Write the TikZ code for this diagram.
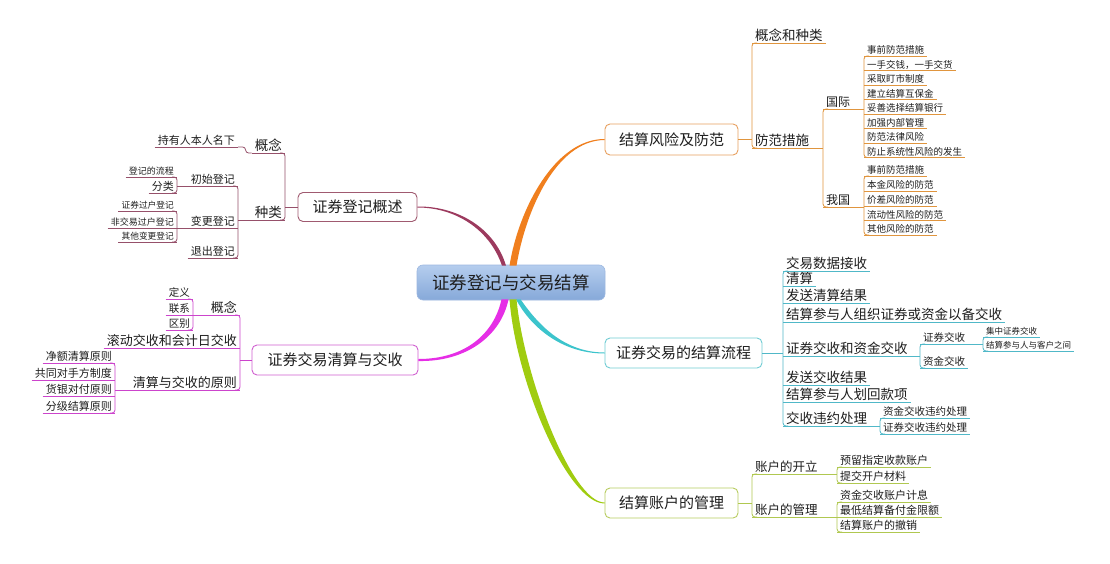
\documentclass[tikz,border=0pt]{standalone}
\usepackage{fontspec}
\newfontfamily\cjk{Noto Sans CJK SC}
\usetikzlibrary{calc}
\newcommand\myfs[1]{\cjk\fontsize{#1}{#1}\selectfont}
\definecolor{txt}{HTML}{1E1E1E}
\definecolor{orgT}{HTML}{F07F1E}
\definecolor{orgL}{HTML}{E0953E}
\definecolor{orgB}{HTML}{E8A060}
\definecolor{marT}{HTML}{9C3A5E}
\definecolor{marL}{HTML}{96506A}
\definecolor{marB}{HTML}{A05A70}
\definecolor{magT}{HTML}{E62EE6}
\definecolor{magL}{HTML}{CC44CC}
\definecolor{magB}{HTML}{D060D0}
\definecolor{cyaT}{HTML}{3CC4CC}
\definecolor{cyaL}{HTML}{50B8C8}
\definecolor{cyaB}{HTML}{70CCD4}
\definecolor{grnT}{HTML}{A0CC10}
\definecolor{grnL}{HTML}{B0C850}
\definecolor{grnB}{HTML}{B8CC60}
\definecolor{cenTop}{HTML}{B5CDEE}
\definecolor{cenBot}{HTML}{86A9D9}
\definecolor{cenDraw}{HTML}{9DB8E0}
\begin{document}
\begin{tikzpicture}[x=1pt,y=-1pt,
  lbl/.style={inner xsep=3pt, inner ysep=1.2pt, text=txt},
  R/.style={lbl, anchor=south west},
  L/.style={lbl, anchor=south east},
  fz/.style={font=\myfs{#1}},
  lw/.style={line width=0.8pt},
  br/.style={line width=0.8pt, rounded corners=3pt},
  topic/.style={draw=#1, fill=white, rounded corners=5pt, line width=0.9pt, font=\myfs{15}, inner sep=0pt, text=txt},
  central/.style={draw=cenDraw, top color=cenTop, bottom color=cenBot, rounded corners=6pt, line width=0.6pt, font=\myfs{17.5}, inner sep=0pt, text=txt}
]
\useasboundingbox (0,0) rectangle (1110,564);
\fill[white] (0,0) rectangle (1110,564);

% central and main topics
\node[central, minimum width=188pt, minimum height=35pt] (c) at (511,282.5) {证券登记与交易结算};
\node[topic=orgB, minimum width=133pt, minimum height=31pt] (t1) at (671.5,139.5) {结算风险及防范};
\node[topic=cyaB, minimum width=157pt, minimum height=30pt] (t2) at (683.5,353) {证券交易的结算流程};
\node[topic=grnB, minimum width=133pt, minimum height=30pt] (t3) at (671.5,503) {结算账户的管理};
\node[topic=marB, minimum width=119pt, minimum height=29pt] (t4) at (357.5,207) {证券登记概述};
\node[topic=magB, minimum width=166pt, minimum height=30pt] (t5) at (335,360) {证券交易清算与交收};

% tapered main connectors
\fill[orgT] ($(c.north)+(-1.5,1)$) .. controls (518.5,209) and (555,139) .. ($(t1.west)+(0,-0.5)$)
  -- ($(t1.west)+(0,0.5)$) .. controls (556,140.5) and (525.5,211) .. ($(c.north)+(5.5,1)$) -- cycle;
\fill[marT] ($(c.north)+(-9,1)$) .. controls (489.5,229) and (455,207.5) .. ($(t4.east)+(0,0.5)$)
  -- ($(t4.east)+(0,-0.5)$) .. controls (456,206) and (494.5,227) .. ($(c.north)+(-5,1)$) -- cycle;
\fill[magT] ($(c.south)+(-9.5,-1)$) .. controls (494,334) and (465,359) .. ($(t5.east)+(0,-1)$)
  -- ($(t5.east)+(0,1)$) .. controls (466,362) and (501,336) .. ($(c.south)+(-2.5,-1)$) -- cycle;
\fill[cyaT] ($(c.south)+(5,-1)$) .. controls (529,324) and (559,353.5) .. ($(t2.west)+(0,0.5)$)
  -- ($(t2.west)+(0,-0.5)$) .. controls (561,352.5) and (535,320) .. ($(c.south)+(9.5,-1)$) -- cycle;
\fill[grnT] ($(c.south)+(-1.5,-1)$) .. controls (516,383) and (568,503.5) .. ($(t3.west)+(0,0.5)$)
  -- ($(t3.west)+(0,-0.5)$) .. controls (572,502.5) and (524,377) .. ($(c.south)+(5.5,-1)$) -- cycle;

% ---------- branch 1: 结算风险及防范 ----------
\node[R,fz=13.5] (a1) at (752,43) {概念和种类};
\node[R,fz=13.5] (a2) at (752,148) {防范措施};
\node[R,fz=12] (b1) at (823,109) {国际};
\node[R,fz=12] (b2) at (823,207) {我国};
\node[R,fz=9.5] (i1) at (864,56) {事前防范措施};
\node[R,fz=9.5] (i2) at (864,70.5) {一手交钱，一手交货};
\node[R,fz=9.5] (i3) at (864,85) {采取盯市制度};
\node[R,fz=9.5] (i4) at (864,99.5) {建立结算互保金};
\node[R,fz=9.5] (i5) at (864,114) {妥善选择结算银行};
\node[R,fz=9.5] (i6) at (864,128.5) {加强内部管理};
\node[R,fz=9.5] (i7) at (864,143) {防范法律风险};
\node[R,fz=9.5] (i8) at (864,157.5) {防止系统性风险的发生};
\node[R,fz=9.5] (j1) at (864,176) {事前防范措施};
\node[R,fz=9.5] (j2) at (864,191) {本金风险的防范};
\node[R,fz=9.5] (j3) at (864,206) {价差风险的防范};
\node[R,fz=9.5] (j4) at (864,220.5) {流动性风险的防范};
\node[R,fz=9.5] (j5) at (864,235) {其他风险的防范};
\foreach \n in {a1,a2,b1,b2,i1,i2,i3,i4,i5,i6,i7,i8,j1,j2,j3,j4,j5}
  \draw[orgL,lw] (\n.south west) -- (\n.south east);
\draw[orgL,lw] (t1.east) -- (t1.east -| a1.south west);
\draw[orgL,br] ($(a1.south west)+(5,0)$) -| (a2.south west) -- ++(5,0);
\draw[orgL,lw] (a2.south east) -- (a2.south east -| b1.south west);
\draw[orgL,br] ($(b1.south west)+(5,0)$) -| (b2.south west) -- ++(5,0);
\draw[orgL,lw] (b1.south east) -- (b1.south east -| i1.south west);
\draw[orgL,br] ($(i1.south west)+(5,0)$) -| (i8.south west) -- ++(5,0);
\draw[orgL,lw] (b2.south east) -- (b2.south east -| j1.south west);
\draw[orgL,br] ($(j1.south west)+(5,0)$) -| (j5.south west) -- ++(5,0);

% ---------- branch 2: 证券交易的结算流程 ----------
\node[R,fz=13.5] (k1) at (783,271) {交易数据接收};
\node[R,fz=13.5] (k2) at (783,286) {清算};
\node[R,fz=13.5] (k3) at (783,303) {发送清算结果};
\node[R,fz=13.5] (k4) at (783,322) {结算参与人组织证券或资金以备交收};
\node[R,fz=13.5] (k5) at (783,356) {证券交收和资金交收};
\node[R,fz=13.5] (k6) at (783,385) {发送交收结果};
\node[R,fz=13.5] (k7) at (783,402) {结算参与人划回款项};
\node[R,fz=13.5] (k8) at (783,426) {交收违约处理};
\node[R,fz=10.5] (m1) at (920,344) {证券交收};
\node[R,fz=10.5] (m2) at (920,368) {资金交收};
\node[R,fz=8.5] (n1) at (983,337) {集中证券交收};
\node[R,fz=8.5] (n2) at (983,351) {结算参与人与客户之间};
\node[R,fz=10.5] (p1) at (880,418) {资金交收违约处理};
\node[R,fz=10.5] (p2) at (880,434) {证券交收违约处理};
\foreach \n in {k1,k2,k3,k4,k5,k6,k7,k8,m1,m2,n1,n2,p1,p2}
  \draw[cyaL,lw] (\n.south west) -- (\n.south east);
\draw[cyaL,lw] (t2.east) -- (t2.east -| k1.south west);
\draw[cyaL,br] ($(k1.south west)+(5,0)$) -| (k8.south west) -- ++(5,0);
\draw[cyaL,lw] (k5.south east) -- (k5.south east -| m1.south west);
\draw[cyaL,br] ($(m1.south west)+(5,0)$) -| (m2.south west) -- ++(5,0);
\draw[cyaL,lw] (m1.south east) -- (m1.south east -| n1.south west);
\draw[cyaL,br] ($(n1.south west)+(5,0)$) -| (n2.south west) -- ++(5,0);
\draw[cyaL,lw] (k8.south east) -- (k8.south east -| p1.south west);
\draw[cyaL,br] ($(p1.south west)+(5,0)$) -| (p2.south west) -- ++(5,0);

% ---------- branch 3: 结算账户的管理 ----------
\node[R,fz=12.5] (q1) at (752,474) {账户的开立};
\node[R,fz=12.5] (q2) at (752,517) {账户的管理};
\node[R,fz=11] (r1) at (837,467) {预留指定收款账户};
\node[R,fz=11] (r2) at (837,483) {提交开户材料};
\node[R,fz=11] (r3) at (837,502) {资金交收账户计息};
\node[R,fz=11] (r4) at (837,517) {最低结算备付金限额};
\node[R,fz=11] (r5) at (837,532) {结算账户的撤销};
\foreach \n in {q1,q2,r1,r2,r3,r4,r5}
  \draw[grnL,lw] (\n.south west) -- (\n.south east);
\draw[grnL,lw] (t3.east) -- (t3.east -| q1.south west);
\draw[grnL,br] ($(q1.south west)+(5,0)$) -| (q2.south west) -- ++(5,0);
\draw[grnL,lw] (q1.south east) -- (q1.south east -| r1.south west);
\draw[grnL,br] ($(r1.south west)+(5,0)$) -| (r2.south west) -- ++(5,0);
\draw[grnL,lw] (q2.south east) -- (q2.south east -| r3.south west);
\draw[grnL,br] ($(r3.south west)+(5,0)$) -| (r5.south west) -- ++(5,0);

% ---------- branch 4: 证券登记概述 ----------
\node[L,fz=13.5] (u1) at (285,153) {概念};
\node[L,fz=13.5] (u2) at (285,220) {种类};
\node[L,fz=11] (u0) at (238,147) {持有人本人名下};
\node[L,fz=11] (v1) at (238,186) {初始登记};
\node[L,fz=11] (v2) at (238,228) {变更登记};
\node[L,fz=11] (v3) at (238,258) {退出登记};
\node[L,fz=9] (w1) at (177,177) {登记的流程};
\node[L,fz=11] (w2) at (177,193) {分类};
\node[L,fz=8.7] (x1) at (177,211) {证券过户登记};
\node[L,fz=9] (x2) at (177,228) {非交易过户登记};
\node[L,fz=8.7] (x3) at (177,242) {其他变更登记};
\foreach \n in {u0,u1,u2,v1,v2,v3,w1,w2,x1,x2,x3}
  \draw[marL,lw] (\n.south west) -- (\n.south east);
\draw[marL,lw] (t4.west) -- (t4.west -| u1.south east);
\draw[marL,br] ($(u1.south east)+(-5,0)$) -| (u2.south east) -- ++(-5,0);
\draw[marL,br] (u1.south west) -- ++(-6,0) |- (u0.south east);
\draw[marL,lw] (u2.south west) -- (u2.south west -| v1.south east);
\draw[marL,br] ($(v1.south east)+(-5,0)$) -| (v3.south east) -- ++(-5,0);
\draw[marL,lw] (v1.south west) -- (v1.south west -| w1.south east);
\draw[marL,br] ($(w1.south east)+(-5,0)$) -| (w2.south east) -- ++(-5,0);
\draw[marL,lw] (v2.south west) -- (v2.south west -| x1.south east);
\draw[marL,br] ($(x1.south east)+(-5,0)$) -| (x3.south east) -- ++(-5,0);

% ---------- branch 5: 证券交易清算与交收 ----------
\node[L,fz=13] (y1) at (240,315) {概念};
\node[L,fz=13] (y2) at (240,348) {滚动交收和会计日交收};
\node[L,fz=13] (y3) at (240,390) {清算与交收的原则};
\node[L,fz=10.5] (z1) at (193,299) {定义};
\node[L,fz=10.5] (z2) at (193,315) {联系};
\node[L,fz=10.5] (z3) at (193,330) {区别};
\node[L,fz=11] (h1) at (115,363) {净额清算原则};
\node[L,fz=11] (h2) at (115,380) {共同对手方制度};
\node[L,fz=11] (h3) at (115,396) {货银对付原则};
\node[L,fz=11] (h4) at (115,413) {分级结算原则};
\foreach \n in {y1,y2,y3,z1,z2,z3,h1,h2,h3,h4}
  \draw[magL,lw] (\n.south west) -- (\n.south east);
\draw[magL,lw] (t5.west) -- (t5.west -| y1.south east);
\draw[magL,br] ($(y1.south east)+(-5,0)$) -| (y3.south east) -- ++(-5,0);
\draw[magL,lw] (y1.south west) -- (y1.south west -| z1.south east);
\draw[magL,br] ($(z1.south east)+(-5,0)$) -| (z3.south east) -- ++(-5,0);
\draw[magL,lw] (y3.south west) -- (y3.south west -| h1.south east);
\draw[magL,br] ($(h1.south east)+(-5,0)$) -| (h4.south east) -- ++(-5,0);
\end{tikzpicture}
\end{document}
